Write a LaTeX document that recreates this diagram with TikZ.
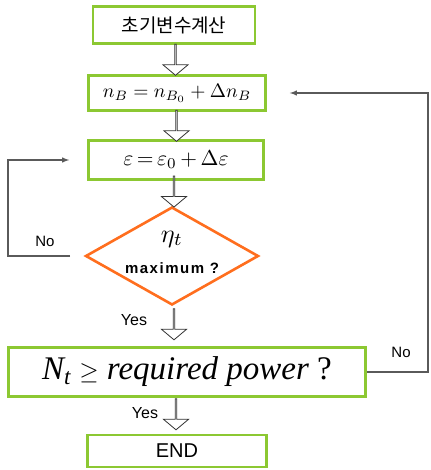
\documentclass[tikz,border=0pt]{standalone}
\usepackage{fontspec}
\setmainfont{Liberation Sans}
\newfontfamily\krfont{Noto Sans CJK KR}
\newfontfamily\timesfont{Liberation Serif}
\usetikzlibrary{shapes,arrows,positioning,calc}

\definecolor{boxgreen}{RGB}{140,200,50}
\definecolor{dmorange}{RGB}{255,110,30}
\definecolor{loopgray}{RGB}{90,90,90}

\begin{document}
\begin{tikzpicture}[
    x=1pt, y=-1pt,
    stepbox/.style={rectangle, draw=boxgreen, line width=2.6pt, fill=white,
                    inner sep=0pt, align=center},
    decide/.style={diamond, draw=dmorange, line width=2.6pt, fill=white,
                   inner sep=0pt, minimum width=173pt, minimum height=98pt, align=center},
    hollow/.style={single arrow, draw=black!80, line width=0.8pt, fill=white,
                   shape border rotate=270, minimum height=31pt, minimum width=25pt,
                   single arrow head extend=6.5pt, single arrow tip angle=100, inner sep=0pt},
    loop/.style={->, >=latex, line width=1.4pt, draw=loopgray},
    lbl/.style={font=\fontsize{15}{17}\selectfont}
]
\useasboundingbox (0,0) rectangle (430,470);

% boxes
\node[stepbox, minimum width=162pt, minimum height=37pt] (init) at (174,25)
    {\krfont\fontsize{19}{22}\selectfont 초기변수계산};
\node[stepbox, minimum width=177pt, minimum height=35pt] (nupd) at (177,93)
    {\scalebox{1.95}{$n_B = n_{B_0} + \Delta n_B$}};
\node[stepbox, minimum width=175pt, minimum height=39pt] (epsupd) at (176,160)
    {\scalebox{2.15}{$\varepsilon \,{=}\, \varepsilon_0 \,{+}\, \Delta\varepsilon$}};
\node[decide] (etamax) at (172,256) {};
\node (eta) at (172,239) {\scalebox{2.6}{$\eta_t$}};
\node (maxq) at (172,268)
    {\fontsize{15}{17}\selectfont\bfseries\addfontfeature{LetterSpace=10}maximum ?};
\node[stepbox, minimum width=357pt, minimum height=49pt] (power) at (187,372)
    {\timesfont\itshape\fontsize{33}{35}\selectfont N\textsubscript{t} \upshape$\geq$ \itshape required power \upshape ?};
\node[stepbox, minimum width=179pt, minimum height=32pt] (fin) at (177,451)
    {\fontsize{20}{22}\selectfont END};

% hollow arrows
\node[hollow] (a1) at ($(init.south)!0.5!(nupd.north)$) {};
\node[hollow] (a2) at ($(nupd.south)!0.5!(epsupd.north)$) {};
\node[hollow] (a3) at ($(epsupd.south)!0.5!(etamax.north)+(0,-2)$) {};
\node[hollow] (a4) at (174,324) {};
\node[hollow] (a5) at (176,414) {};

\node[lbl, font=\fontsize{16}{18}\selectfont] (yes1) at (134,320) {Yes};
\node[lbl, font=\fontsize{16}{18}\selectfont] (yes2) at (145,413) {Yes};
\node[lbl] (no1) at (45,241) {No};
\node[lbl] (no2) at (401,352) {No};

% feedback loops
\coordinate (lbend) at (8,0);
\coordinate (rbend) at (428,0);
\draw[loop, shorten <=14pt, shorten >=18pt] (etamax.west) -- (etamax.west -| lbend) |- (epsupd.west);
\draw[loop, shorten >=23pt] (power.east) -- (power.east -| rbend) |- (nupd.east);
\end{tikzpicture}
\end{document}
